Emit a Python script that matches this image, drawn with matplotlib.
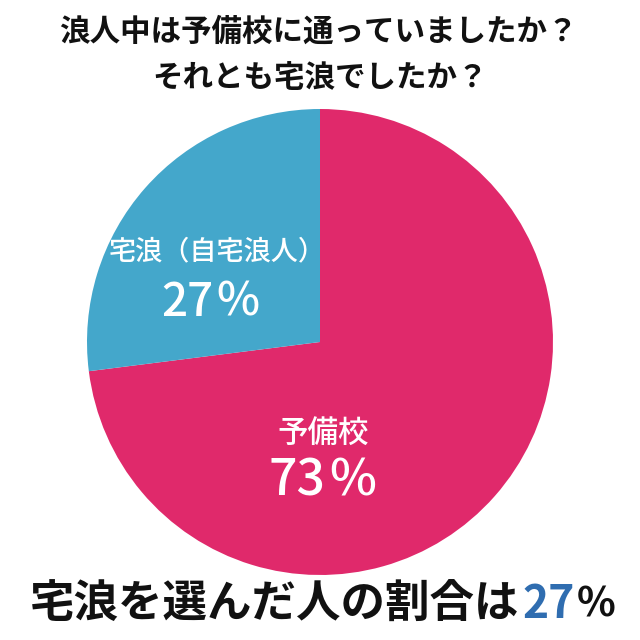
import matplotlib
matplotlib.use("Agg")
import matplotlib.pyplot as plt

plt.rcParams['font.family'] = ['Noto Sans CJK JP', 'DejaVu Sans']

categories = ["予備校", "宅浪（自宅浪人）"]
values = [73, 27]
colors = ["#E0296B", "#44A7CB"]
title_lines = ["浪人中は予備校に通っていましたか？", "それとも宅浪でしたか？"]
caption = "宅浪を選んだ人の割合は"

fig = plt.figure(figsize=(6.4, 6.4), dpi=100)
ax = fig.add_axes([0, 0, 1, 1])

cx, cy, r = 320, 640 - 342, 233
ax.pie(values, colors=colors, startangle=90, counterclock=False,
       center=(cx, cy), radius=r, frame=True,
       wedgeprops=dict(linewidth=0))
ax.set_xlim(0, 640)
ax.set_ylim(0, 640)
ax.set_aspect('equal')
ax.axis('off')

inv = ax.transData.inverted()


def width_of(t):
    fig.canvas.draw()
    bb = t.get_window_extent()
    x0 = inv.transform((bb.x0, bb.y0))[0]
    x1 = inv.transform((bb.x1, bb.y0))[0]
    return x0, x1


def pct_label(xc, y, val, fs, gap, color='white', weight='medium'):
    t1 = ax.text(0, y, f"{val}", color=color, fontsize=fs,
                 ha='left', va='center', fontweight=weight)
    a0, a1 = width_of(t1)
    t2 = ax.text(0, y, "%", color=color, fontsize=fs,
                 ha='left', va='center', fontweight=weight)
    b0, b1 = width_of(t2)
    total = (a1 - a0) + gap + (b1 - b0)
    start = xc - total / 2
    t1.set_x(start - a0)
    t2.set_x(start + (a1 - a0) + gap - b0)


# slice labels
ax.text(217, 640 - 252, categories[1], color='white', fontsize=19.5,
        ha='center', va='center', fontweight='medium')
pct_label(210, 640 - 302, values[1], 33, 3)
ax.text(323, 640 - 433, categories[0], color='white', fontsize=22,
        ha='center', va='center', fontweight='medium')
pct_label(322, 640 - 482, values[0], 36, 4)

# title
ax.text(318, 640 - 32, title_lines[0], color='#111111', fontsize=22,
        ha='center', va='center', fontweight='bold')
ax.text(320, 640 - 78, title_lines[1], color='#111111', fontsize=22,
        ha='center', va='center', fontweight='bold')

# bottom caption with highlighted number
fs = 32
yb = 640 - 605
t1 = ax.text(30, yb, caption, color='#111111', fontsize=fs,
             ha='left', va='center', fontweight='bold')
_, x_end = width_of(t1)
t2 = ax.text(x_end + 3, yb, f"{values[1]}", color='#2F6DB0', fontsize=fs,
             ha='left', va='center', fontweight='bold')
_, x_end2 = width_of(t2)
ax.text(x_end2 + 2, yb, "%", color='#111111', fontsize=29,
        ha='left', va='center', fontweight='bold')

fig.savefig("out.png", dpi=100, facecolor='white')
